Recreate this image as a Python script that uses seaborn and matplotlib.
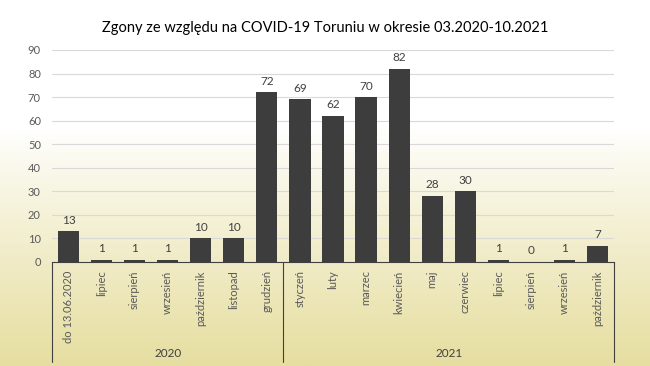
import numpy as np
import pandas as pd
import matplotlib
matplotlib.use("Agg")
import matplotlib.pyplot as plt
import seaborn as sns

months = ["do 13.06.2020", "lipiec", "sierpień", "wrzesień", "październik",
          "listopad", "grudzień", "styczeń", "luty", "marzec", "kwiecień",
          "maj", "czerwiec", "lipiec", "sierpień", "wrzesień", "październik"]
years = ["2020"] * 7 + ["2021"] * 10
deaths = [13, 1, 1, 1, 10, 10, 72, 69, 62, 70, 82, 28, 30, 1, 0, 1, 7]

df = pd.DataFrame({"pos": range(len(months)), "month": months,
                   "year": years, "deaths": deaths})

sns.set_theme(style="white")
plt.rcParams["font.family"] = ["Lato", "DejaVu Sans"]

fig = plt.figure(figsize=(6.5, 3.66), dpi=100)

# background gradient: white at top, pale yellow at bottom
bg = fig.add_axes([0, 0, 1, 1], zorder=-10)
t = np.linspace(0, 1, 256)
w = np.clip((t - 0.35) / 0.65, 0, 1) ** 0.9
top = np.array([1.0, 1.0, 1.0])
bot = np.array([230, 222, 160]) / 255
grad = (1 - w)[:, None] * top + w[:, None] * bot
bg.imshow(grad[:, None, :], aspect="auto", extent=[0, 1, 0, 1], origin="upper")
bg.set_axis_off()

ax = fig.add_axes([52 / 650, 1 - 262 / 366, (614 - 52) / 650, (262 - 50) / 366])
ax.patch.set_alpha(0)
sns.barplot(data=df, x="pos", y="deaths", color="#3d3d3d", width=0.64,
            saturation=1, edgecolor="none", linewidth=0, ax=ax, zorder=3)

ax.set_ylim(0, 90)
ax.set_yticks(range(0, 91, 10))
ax.yaxis.grid(True, color="#d9d9d9", linewidth=0.8, zorder=0)
ax.tick_params(axis="y", length=0, labelsize=8, labelcolor="#595959", pad=8)
ax.set_xticks(range(len(months)))
ax.set_xticklabels(months, rotation=90, fontsize=8, color="#595959")
ax.tick_params(axis="x", length=0, pad=6)
ax.set_xlim(-0.5, len(months) - 0.5)
ax.set_xlabel("")
ax.set_ylabel("")
for s in ["top", "right", "left"]:
    ax.spines[s].set_visible(False)
ax.spines["bottom"].set_color("#404040")
ax.spines["bottom"].set_linewidth(0.8)

for p, v in zip(df["pos"], df["deaths"]):
    ax.annotate(str(v), (p, v), xytext=(0, 4), textcoords="offset points",
                ha="center", va="bottom", fontsize=8.5, color="#404040")

# year group separators and labels
sep_positions = [-0.5, 6.5, len(months) - 0.5]
for x in sep_positions:
    ax.plot([x, x], [0, -0.47], transform=ax.get_xaxis_transform(),
            color="#404040", linewidth=0.8, clip_on=False)
for yr, grp in df.groupby("year"):
    mid = (grp["pos"].min() + grp["pos"].max()) / 2
    ax.text(mid, -0.43, yr, transform=ax.get_xaxis_transform(), ha="center",
            va="center", fontsize=8.5, color="#404040")

fig.text(0.5, 1 - 28 / 366, "Zgony ze względu na COVID-19 Toruniu w okresie 03.2020-10.2021",
         ha="center", va="center", fontsize=10.5, color="#000000")

fig.savefig("out.png", dpi=100)
